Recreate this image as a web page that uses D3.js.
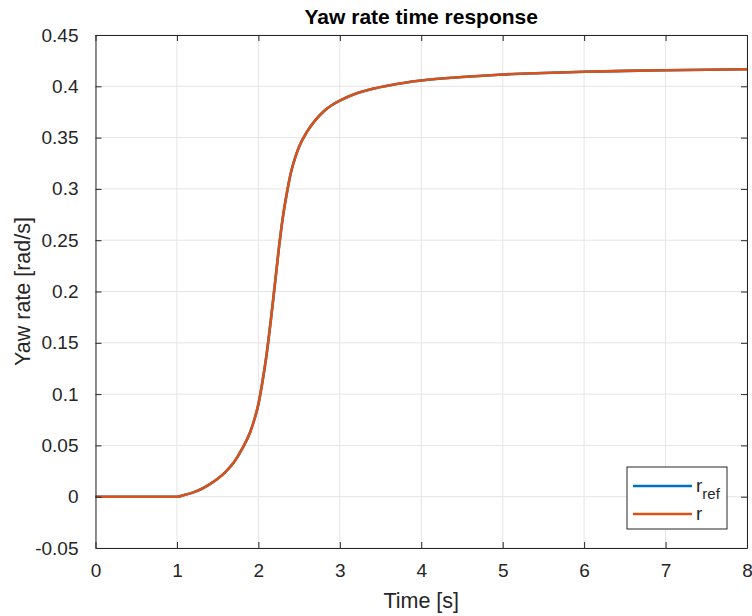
<!DOCTYPE html>
<html>
<head>
<meta charset="utf-8">
<script src="https://cdn.jsdelivr.net/npm/d3@7"></script>
<style>
  body { margin: 0; background: #fff; }
  text { font-family: "Liberation Sans", Arial, sans-serif; fill: #262626; }
</style>
</head>
<body>
<div id="graph1"></div>
<script>
// time axis samples [s]
var time = [0, 0.5, 1.0, 1.1, 1.2, 1.3, 1.4, 1.5, 1.6, 1.7, 1.8, 1.9, 1.95, 2.0, 2.05, 2.1, 2.15,
            2.2, 2.25, 2.3, 2.35, 2.4, 2.45, 2.5, 2.6, 2.7, 2.8, 2.9, 3.0, 3.2, 3.4, 3.6, 3.8,
            4.0, 4.5, 5.0, 5.5, 6.0, 6.5, 7.0, 7.5, 8.0];
// reference yaw rate [rad/s]
var r_ref = [0, 0, 0, 0.0018, 0.0042, 0.0075, 0.012, 0.0175, 0.0245, 0.0335, 0.0465, 0.063, 0.075,
             0.09, 0.112, 0.138, 0.17, 0.205, 0.241, 0.272, 0.296, 0.316, 0.330, 0.341, 0.356,
             0.367, 0.3755, 0.3815, 0.386, 0.393, 0.3975, 0.4008, 0.4035, 0.4056, 0.409, 0.4115,
             0.413, 0.4142, 0.415, 0.4157, 0.4162, 0.4166];
// actual yaw rate [rad/s]
var r_act = [0, 0, 0, 0.0018, 0.0042, 0.0075, 0.012, 0.0175, 0.0245, 0.0335, 0.0465, 0.063, 0.075,
             0.09, 0.112, 0.138, 0.17, 0.205, 0.241, 0.272, 0.296, 0.316, 0.330, 0.341, 0.356,
             0.367, 0.3755, 0.3815, 0.386, 0.393, 0.3975, 0.4008, 0.4035, 0.4056, 0.409, 0.4115,
             0.413, 0.4142, 0.415, 0.4157, 0.4162, 0.4166];
var xTicks = [0, 1, 2, 3, 4, 5, 6, 7, 8];
var yTicks = [-0.05, 0, 0.05, 0.1, 0.15, 0.2, 0.25, 0.3, 0.35, 0.4, 0.45];

var W = 752, H = 616;
var margin = {top: 35, right: 5, bottom: 68, left: 95.5};
var width = W - margin.left - margin.right,
    height = H - margin.top - margin.bottom;

var svg = d3.select("#graph1").append("svg")
    .attr("width", W).attr("height", H);
var g = svg.append("g")
    .attr("transform", "translate(" + margin.left + "," + margin.top + ")");

var x = d3.scaleLinear().domain([0, 8]).range([0, width]);
var y = d3.scaleLinear().domain([-0.05, 0.45]).range([height, 0]);

// grid
g.selectAll(".vgrid").data(xTicks).enter().append("line")
  .attr("x1", d => x(d)).attr("x2", d => x(d))
  .attr("y1", 0).attr("y2", height)
  .style("stroke", "#e5e5e5").style("stroke-width", 1);
g.selectAll(".hgrid").data(yTicks).enter().append("line")
  .attr("x1", 0).attr("x2", width)
  .attr("y1", d => y(d)).attr("y2", d => y(d))
  .style("stroke", "#e5e5e5").style("stroke-width", 1);

// lines
function series(vals) {
  return time.map(function(t, i) { return [t, vals[i]]; });
}
var line = d3.line()
  .x(d => x(d[0])).y(d => y(d[1]))
  .curve(d3.curveMonotoneX);

g.append("path").datum(series(r_ref))
  .attr("d", line)
  .style("fill", "none").style("stroke", "#0072BD").style("stroke-width", 2.6);
g.append("path").datum(series(r_act))
  .attr("d", line)
  .style("fill", "none").style("stroke", "#D95319").style("stroke-width", 2.6);

// axes (ticks inward, box on)
var fs = 19;
var fmt = d => String(+d.toFixed(2));
var xAxis = g.append("g").attr("transform", "translate(0," + height + ")")
  .call(d3.axisBottom(x).tickValues(xTicks).tickSizeInner(-6).tickSizeOuter(0).tickPadding(16).tickFormat(fmt));
var xTop = g.append("g")
  .call(d3.axisTop(x).tickValues(xTicks).tickSizeInner(-6).tickSizeOuter(0).tickFormat(""));
var yAxis = g.append("g")
  .call(d3.axisLeft(y).tickValues(yTicks).tickSizeInner(-6).tickSizeOuter(0).tickPadding(17).tickFormat(fmt));
var yRight = g.append("g").attr("transform", "translate(" + width + ",0)")
  .call(d3.axisRight(y).tickValues(yTicks).tickSizeInner(-6).tickSizeOuter(0).tickFormat(""));

[xAxis, xTop, yAxis, yRight].forEach(function(a) {
  a.selectAll("path").style("stroke", "#262626").style("stroke-width", 1);
  a.selectAll("line").style("stroke", "#262626").style("stroke-width", 1);
  a.selectAll("text").style("font-size", fs + "px").style("font-family", "Liberation Sans, Arial, sans-serif")
    .attr("fill", "#262626");
});
xAxis.selectAll("text").attr("dy", "0.71em");

// title and labels
svg.append("text")
  .attr("x", margin.left + width / 2).attr("y", 24)
  .attr("text-anchor", "middle")
  .style("font-size", "21px").style("font-weight", "bold").style("fill", "#000")
  .text("Yaw rate time response");
svg.append("text")
  .attr("x", margin.left + width / 2).attr("y", 608)
  .attr("text-anchor", "middle")
  .style("font-size", "21.5px")
  .text("Time [s]");
svg.append("text")
  .attr("transform", "translate(30," + (margin.top + height / 2) + ") rotate(-90)")
  .attr("text-anchor", "middle")
  .style("font-size", "21.5px")
  .text("Yaw rate [rad/s]");

// legend
var leg = svg.append("g").attr("transform", "translate(627,467)");
leg.append("rect").attr("width", 100).attr("height", 62)
  .style("fill", "#fff").style("stroke", "#262626").style("stroke-width", 1);
var legItems = [
  {name: "r", sub: "ref", color: "#0072BD", y: 19},
  {name: "r", sub: "", color: "#D95319", y: 47}
];
legItems.forEach(function(d) {
  leg.append("line").attr("x1", 6).attr("x2", 65).attr("y1", d.y).attr("y2", d.y)
    .style("stroke", d.color).style("stroke-width", 2.6);
  var t = leg.append("text").attr("x", 69).attr("y", d.y + 6).style("font-size", fs + "px");
  t.append("tspan").text(d.name);
  if (d.sub) {
    t.append("tspan").attr("dy", 7).style("font-size", "15px").text(d.sub);
  }
});
</script>
</body>
</html>
